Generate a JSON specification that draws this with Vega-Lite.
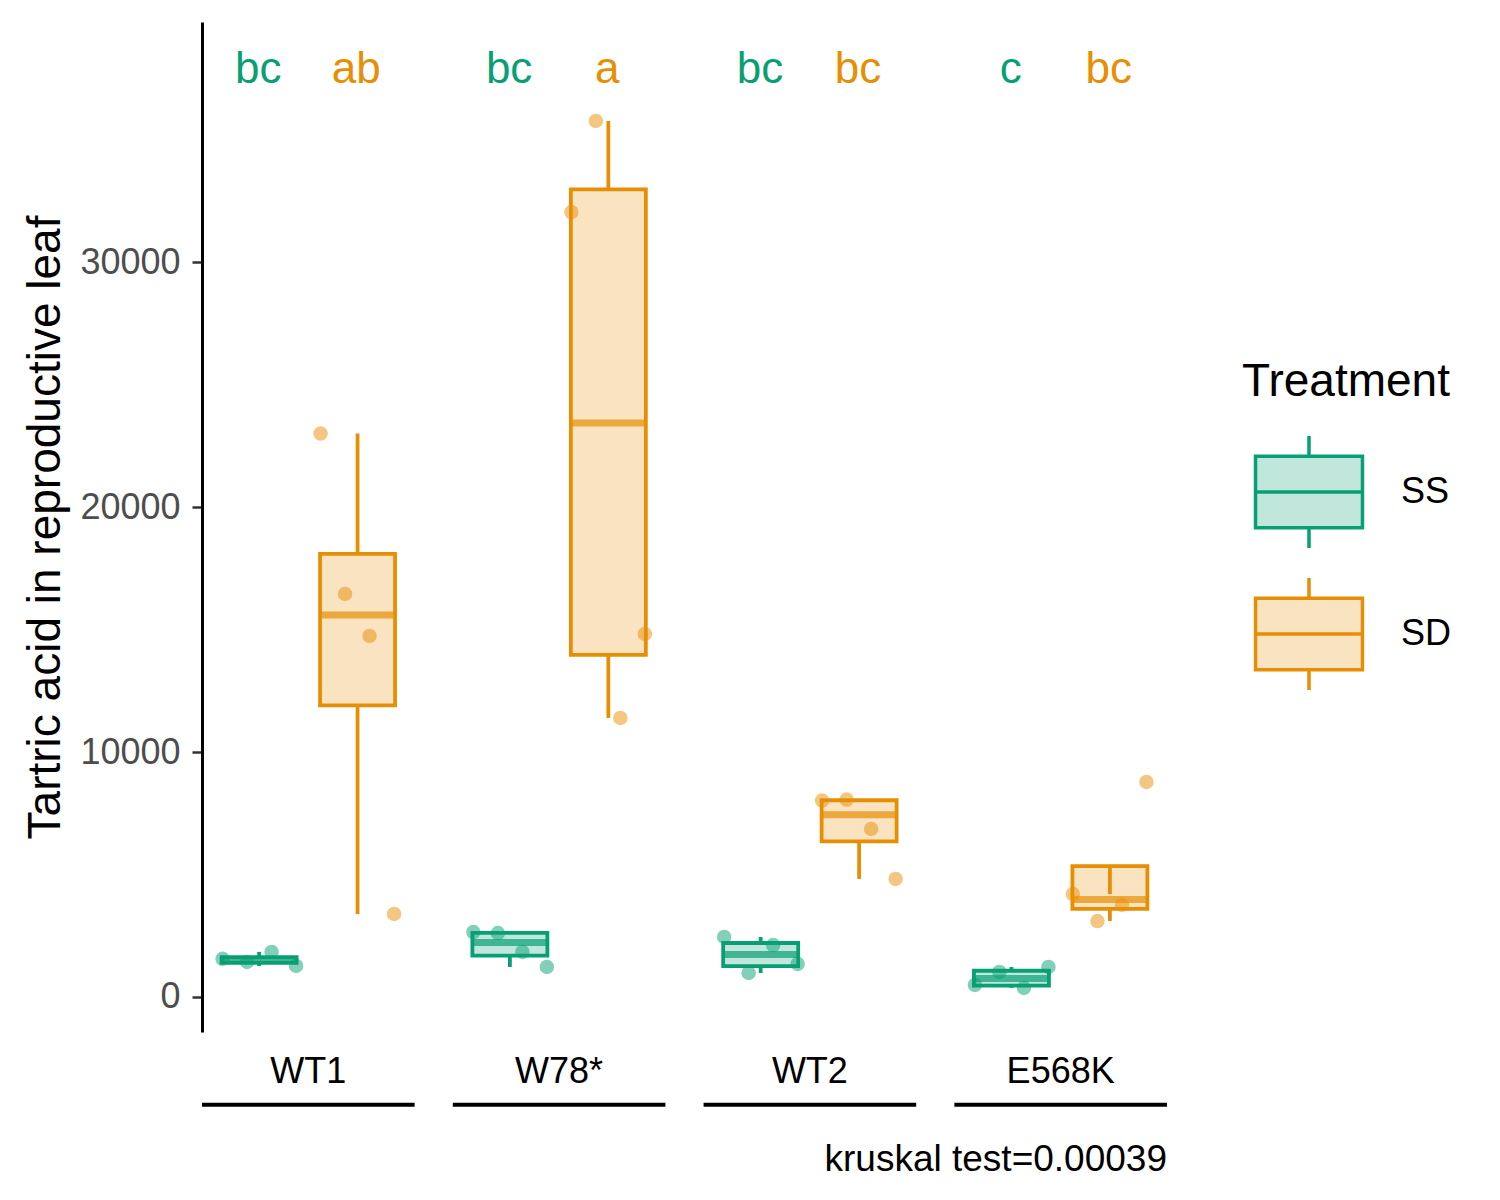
{
  "$schema": "https://vega.github.io/schema/vega-lite/v6.json",
  "description": "Tartaric acid in reproductive leaf by genotype and treatment",
  "padding": {"left": 22, "top": 22, "right": 5, "bottom": 5},
  "background": "white",
  "config": {
    "font": "Liberation Sans",
    "view": {"stroke": null},
    "axis": {"grid": false}
  },
  "datasets": {
    "samples": [
      {"genotype": "WT1", "treatment": "SS", "sample": "SS1", "value": 1560, "letter": "bc"},
      {"genotype": "WT1", "treatment": "SS", "sample": "SS2", "value": 1430, "letter": "bc"},
      {"genotype": "WT1", "treatment": "SS", "sample": "SS3", "value": 1840, "letter": "bc"},
      {"genotype": "WT1", "treatment": "SS", "sample": "SS4", "value": 1265, "letter": "bc"},
      {"genotype": "WT1", "treatment": "SD", "sample": "SD1", "value": 23000, "letter": "ab"},
      {"genotype": "WT1", "treatment": "SD", "sample": "SD2", "value": 16450, "letter": "ab"},
      {"genotype": "WT1", "treatment": "SD", "sample": "SD3", "value": 14740, "letter": "ab"},
      {"genotype": "WT1", "treatment": "SD", "sample": "SD4", "value": 3390, "letter": "ab"},
      {"genotype": "W78*", "treatment": "SS", "sample": "SS1", "value": 2650, "letter": "bc"},
      {"genotype": "W78*", "treatment": "SS", "sample": "SS2", "value": 2610, "letter": "bc"},
      {"genotype": "W78*", "treatment": "SS", "sample": "SS3", "value": 1840, "letter": "bc"},
      {"genotype": "W78*", "treatment": "SS", "sample": "SS4", "value": 1225, "letter": "bc"},
      {"genotype": "W78*", "treatment": "SD", "sample": "SD1", "value": 32040, "letter": "a"},
      {"genotype": "W78*", "treatment": "SD", "sample": "SD2", "value": 35760, "letter": "a"},
      {"genotype": "W78*", "treatment": "SD", "sample": "SD3", "value": 11390, "letter": "a"},
      {"genotype": "W78*", "treatment": "SD", "sample": "SD4", "value": 14820, "letter": "a"},
      {"genotype": "WT2", "treatment": "SS", "sample": "SS1", "value": 2450, "letter": "bc"},
      {"genotype": "WT2", "treatment": "SS", "sample": "SS2", "value": 980, "letter": "bc"},
      {"genotype": "WT2", "treatment": "SS", "sample": "SS3", "value": 2120, "letter": "bc"},
      {"genotype": "WT2", "treatment": "SS", "sample": "SS4", "value": 1350, "letter": "bc"},
      {"genotype": "WT2", "treatment": "SD", "sample": "SD1", "value": 8020, "letter": "bc"},
      {"genotype": "WT2", "treatment": "SD", "sample": "SD2", "value": 8060, "letter": "bc"},
      {"genotype": "WT2", "treatment": "SD", "sample": "SD3", "value": 6860, "letter": "bc"},
      {"genotype": "WT2", "treatment": "SD", "sample": "SD4", "value": 4820, "letter": "bc"},
      {"genotype": "E568K", "treatment": "SS", "sample": "SS1", "value": 490, "letter": "c"},
      {"genotype": "E568K", "treatment": "SS", "sample": "SS2", "value": 1020, "letter": "c"},
      {"genotype": "E568K", "treatment": "SS", "sample": "SS3", "value": 370, "letter": "c"},
      {"genotype": "E568K", "treatment": "SS", "sample": "SS4", "value": 1225, "letter": "c"},
      {"genotype": "E568K", "treatment": "SD", "sample": "SD1", "value": 4200, "letter": "bc"},
      {"genotype": "E568K", "treatment": "SD", "sample": "SD2", "value": 3100, "letter": "bc"},
      {"genotype": "E568K", "treatment": "SD", "sample": "SD3", "value": 3760, "letter": "bc"},
      {"genotype": "E568K", "treatment": "SD", "sample": "SD4", "value": 8780, "letter": "bc"}
    ],
    "genotypes": [
      {"genotype": "WT1"},
      {"genotype": "W78*"},
      {"genotype": "WT2"},
      {"genotype": "E568K"}
    ]
  },
  "spacing": 0,
  "vconcat": [
    {
      "width": 965,
      "height": 1010,
      "data": {"name": "samples"},
      "encoding": {
        "x": {
          "field": "genotype",
          "type": "nominal",
          "sort": ["WT1", "W78*", "WT2", "E568K"],
          "scale": {"paddingInner": 0.152, "paddingOuter": 0},
          "axis": null
        },
        "y": {
          "field": "value",
          "type": "quantitative",
          "title": "Tartric acid in reproductive leaf",
          "scale": {"domain": [-1430, 39800], "nice": false, "zero": false},
          "axis": {
            "values": [0, 10000, 20000, 30000],
            "format": "d",
            "domainColor": "black",
            "domainWidth": 3,
            "tickColor": "#333333",
            "tickWidth": 2.5,
            "tickSize": 10,
            "labelFontSize": 36,
            "labelColor": "#4D4D4D",
            "labelPadding": 12,
            "titleFontSize": 46,
            "titleFontWeight": "normal",
            "titleColor": "black",
            "titlePadding": 10
          }
        }
      },
      "layer": [
        {
          "mark": {"type": "circle", "size": 210, "opacity": 0.5},
          "encoding": {
            "xOffset": {
              "field": "sample",
              "type": "nominal",
              "scale": {
                "type": "point",
                "domain": ["SS1", "SS2", "SS3", "SS4", "SD1", "SD2", "SD3", "SD4"],
                "padding": 0.84
              }
            },
            "color": {
              "field": "treatment",
              "type": "nominal",
              "title": "Treatment",
              "scale": {"domain": ["SS", "SD"], "range": ["#099F74", "#E78F04"]},
              "legend": {
                "orient": "none",
                "legendX": 1040,
                "legendY": 338,
                "titleFontSize": 46,
                "titleFontWeight": "normal",
                "titleColor": "black",
                "titlePadding": 28,
                "titleLimit": 500,
                "labelFontSize": 36,
                "labelColor": "black",
                "labelOffset": 34,
                "symbolOffset": 9,
                "symbolType": "M-0.955,-0.64H0.955V0.64H-0.955Z M-0.955,0H0.955 M0,-0.64V-1 M0,0.64V1",
                "symbolSize": 12544,
                "symbolOpacity": 1,
                "rowPadding": 16,
                "encode": {
                  "symbols": {
                    "update": {
                      "fill": {"scale": "color", "field": "value"},
                      "fillOpacity": {"value": 0.25},
                      "stroke": {"scale": "color", "field": "value"},
                      "strokeWidth": {"value": 3.5},
                      "opacity": {"value": 1}
                    }
                  }
                }
              }
            }
          }
        },
        {
          "transform": [{"filter": "datum.treatment === 'SS'"}],
          "mark": {
            "type": "boxplot",
            "extent": 1.5,
            "outliers": false,
            "ticks": false,
            "size": 75,
            "box": {"fill": "#099F74", "fillOpacity": 0.25, "stroke": "#099F74", "strokeWidth": 3.8},
            "median": {"color": "#099F74", "thickness": 7},
            "rule": {"color": "#099F74", "strokeWidth": 3.8}
          },
          "encoding": {
            "xOffset": {
              "field": "treatment",
              "type": "nominal",
              "scale": {"domain": ["SS", "SD"], "paddingInner": 0.2, "paddingOuter": 0.18}
            }
          }
        },
        {
          "transform": [{"filter": "datum.treatment === 'SD'"}],
          "mark": {
            "type": "boxplot",
            "extent": 1.5,
            "outliers": false,
            "ticks": false,
            "size": 75,
            "box": {"fill": "#E78F04", "fillOpacity": 0.25, "stroke": "#E78F04", "strokeWidth": 3.8},
            "median": {"color": "#E78F04", "thickness": 7},
            "rule": {"color": "#E78F04", "strokeWidth": 3.8}
          },
          "encoding": {
            "xOffset": {
              "field": "treatment",
              "type": "nominal",
              "scale": {"domain": ["SS", "SD"], "paddingInner": 0.2, "paddingOuter": 0.18}
            }
          }
        },
        {
          "transform": [{"filter": {"field": "sample", "equal": "SS1"}}],
          "mark": {"type": "text", "fontSize": 44, "baseline": "middle", "align": "center", "dx": -50, "color": "#099F74"},
          "encoding": {
            "y": {"datum": 37840},
            "text": {"field": "letter"}
          }
        },
        {
          "transform": [{"filter": {"field": "sample", "equal": "SD1"}}],
          "mark": {"type": "text", "fontSize": 44, "baseline": "middle", "align": "center", "dx": 48, "color": "#E78F04"},
          "encoding": {
            "y": {"datum": 37840},
            "text": {"field": "letter"}
          }
        }
      ],
      "resolve": {"scale": {"xOffset": "independent"}}
    },
    {
      "width": 965,
      "height": 80,
      "data": {"name": "genotypes"},
      "title": {
        "text": "kruskal test=0.00039",
        "orient": "bottom",
        "anchor": "end",
        "fontSize": 37,
        "fontWeight": "normal",
        "color": "black",
        "offset": 30
      },
      "encoding": {
        "x": {
          "field": "genotype",
          "type": "nominal",
          "sort": ["WT1", "W78*", "WT2", "E568K"],
          "scale": {"paddingInner": 0.152, "paddingOuter": 0},
          "axis": null
        }
      },
      "layer": [
        {
          "mark": {"type": "text", "fontSize": 36, "color": "black", "baseline": "middle"},
          "encoding": {
            "y": {"datum": 0.5, "scale": {"domain": [0, 1]}, "axis": null},
            "text": {"field": "genotype"}
          }
        },
        {
          "mark": {"type": "tick", "orient": "horizontal", "size": 212.6, "thickness": 4, "color": "black", "opacity": 1},
          "encoding": {
            "y": {"datum": 0.09, "scale": {"domain": [0, 1]}, "axis": null}
          }
        }
      ]
    }
  ]
}
